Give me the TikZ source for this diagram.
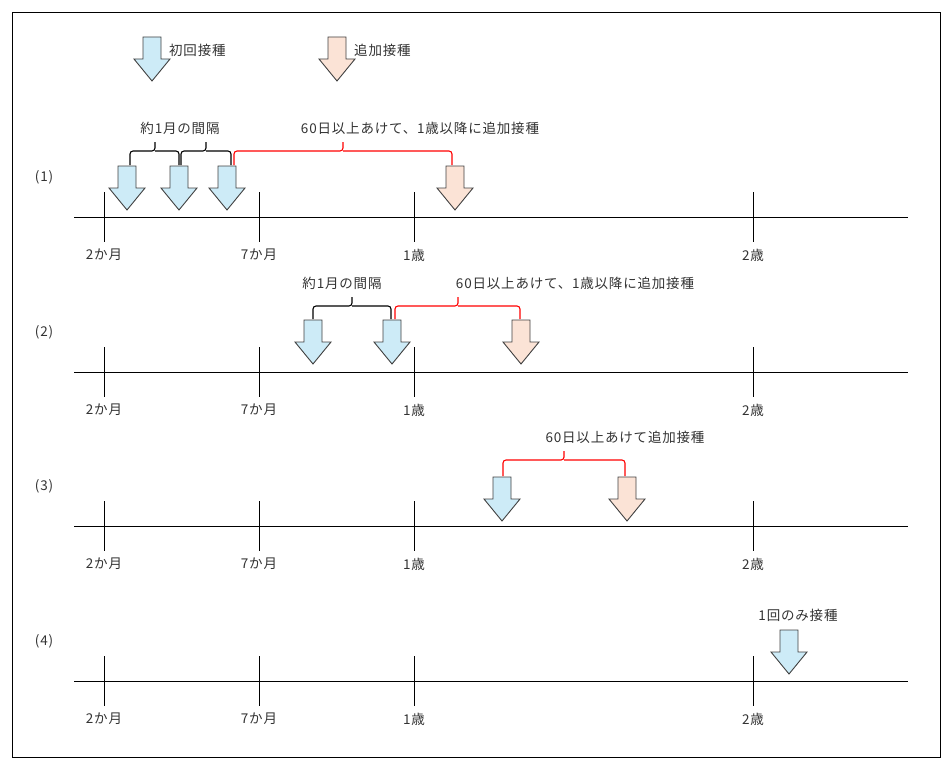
\documentclass[tikz,border=0pt]{standalone}
\usepackage{fontspec}
\newfontfamily\jp[LetterSpace=6]{Noto Sans CJK JP}
\begin{document}
\begin{tikzpicture}[x=1pt,y=-1pt,
  txt/.style={font=\jp\fontsize{13.5pt}{15pt}\selectfont,text=black!80,inner sep=1pt},
  pics/dose/.style={code={\draw[line width=0.9pt,fill=#1,draw=black!75,line join=miter]
    (-9,0)--(9,0)--(9,22)--(18,22)--(0,44)--(-18,22)--(-9,22)--cycle;}},
  br/.style={line width=1.1pt,rounded corners=3pt},
]
\definecolor{b1}{HTML}{CDEBF7}
\definecolor{p1}{HTML}{FBE3D6}
\useasboundingbox (0,0) rectangle (952,773);
\draw[line width=0.8pt] (12,12) rectangle (940,757);
% legend
\pic at (152,37) {dose=b1};
\node[txt,anchor=west] (l1) at (168,50) {初回接種};
\pic at (337,37) {dose=p1};
\node[txt,anchor=west] (l2) at (353,50) {追加接種};
% axes
\foreach \y/\n in {217/1,372/2,526/3,681/4}{
  \draw[line width=0.9pt] (74,\y)--(908,\y);
  \foreach \x/\t in {104/2か月,259/7か月,414/1歳,753/2歳}{
    \draw[line width=0.9pt] (\x,\y-25)--(\x,\y+25);
    \node[txt] at (\x,\y+38) {\t};}
  \node[txt] at (44,\y-40) {(\n)};
}
% row1
\pic at (127,166) {dose=b1};
\pic at (179,166) {dose=b1};
\pic at (227,166) {dose=b1};
\pic at (455,166) {dose=p1};
\draw[br] (130,165)--(130,151)--(155,151)--(155,142) (155,151)--(179,151)--(179,165);
\draw[br] (181,165)--(181,151)--(206,151)--(206,142) (206,151)--(231,151)--(231,165);
\draw[br,red] (234,165)--(234,151)--(343,151)--(343,142) (343,151)--(452,151)--(452,165);
\node[txt] at (180,128) {約1月の間隔};
\node[txt] at (420,128) {60日以上あけて、1歳以降に追加接種};
% row2
\pic at (313,320) {dose=b1};
\pic at (392,320) {dose=b1};
\pic at (521,320) {dose=p1};
\draw[br] (313,319)--(313,306)--(352,306)--(352,297) (352,306)--(391,306)--(391,319);
\draw[br,red] (395,319)--(395,306)--(458,306)--(458,297) (458,306)--(520,306)--(520,319);
\node[txt] at (342,283) {約1月の間隔};
\node[txt] at (575,283) {60日以上あけて、1歳以降に追加接種};
% row3
\pic at (502,477) {dose=b1};
\pic at (627,477) {dose=p1};
\draw[br,red] (503,476)--(503,460)--(564,460)--(564,451) (564,460)--(625,460)--(625,476);
\node[txt] at (625,437) {60日以上あけて追加接種};
% row4
\pic at (789,630) {dose=b1};
\node[txt] at (798,615) {1回のみ接種};
\end{tikzpicture}
\end{document}
